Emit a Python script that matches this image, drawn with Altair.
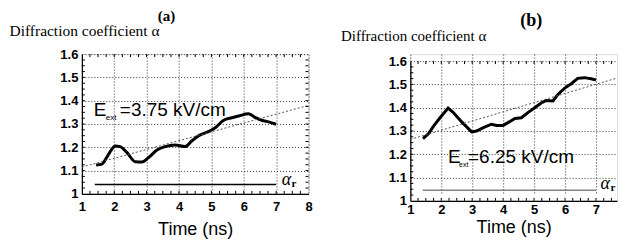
import altair as alt
import pandas as pd

# ---------------- data ----------------
time_a = [1.44, 1.62, 1.80, 2.03, 2.18, 2.39, 2.65, 2.85, 3.06, 3.32, 3.57, 3.88, 4.19,
          4.40, 4.60, 4.91, 5.12, 5.38, 5.63, 5.84, 6.15, 6.36, 6.56, 6.77, 7.00]
alpha_a = [1.124, 1.128, 1.164, 1.206, 1.203, 1.178, 1.138, 1.137, 1.156, 1.188, 1.203, 1.210, 1.203,
           1.228, 1.249, 1.267, 1.284, 1.316, 1.327, 1.334, 1.344, 1.327, 1.316, 1.309, 1.299]

time_b = [1.41, 1.59, 1.75, 1.96, 2.22, 2.39, 2.66, 2.98, 3.14, 3.36, 3.62, 3.79, 4.00, 4.21,
          4.38, 4.59, 4.80, 5.02, 5.23, 5.39, 5.61, 5.77, 5.98, 6.20, 6.41, 6.63, 6.84, 7.00]
alpha_b = [1.267, 1.289, 1.321, 1.357, 1.398, 1.379, 1.339, 1.296, 1.300, 1.314, 1.329, 1.324, 1.324, 1.340,
           1.354, 1.357, 1.379, 1.400, 1.420, 1.431, 1.429, 1.457, 1.483, 1.503, 1.526, 1.529, 1.524, 1.519]

trend_time = [1.0, 8.0]
trend_a = [1.115, 1.38]
trend_b = [1.264, 1.54]

alpha_r_time = [1.4, 7.0]
alpha_r_a = [1.04, 1.04]
alpha_r_b = [1.046, 1.046]

x_ticks = [1, 2, 3, 4, 5, 6, 7, 8]
y_ticks = [1.0, 1.1, 1.2, 1.3, 1.4, 1.5, 1.6]
minor_x = [1 + 0.25 * i for i in range(1, 28)]
minor_y = [1 + 0.025 * i for i in range(1, 24)]

Y_TITLE = "Diffraction coefficient α"
X_TITLE = "Time (ns)"

SANS = "Liberation Sans"
SERIF = "Liberation Serif"


def panel(times, alphas, trend_vals, ar_vals, width, height, top_px, x_max, right_ticks,
          label_title, title_size,
          title_dx, title_offset, ytitle_x, ytitle_y, ytitle_size, xlabel_pad, xtitle_pad,
          e_pos, e_value, e_sub_size, e_sub_dx, e_rest_dx, ar_pos, ar_color, ar_width, interp):
    xs = alt.Scale(domain=[1, x_max], nice=False, zero=False)
    ys = alt.Scale(domain=[1.0, 1.6], nice=False, zero=False, range=[height, top_px])
    shown_x = [v for v in x_ticks if v <= x_max]
    shown_minor_x = [v for v in minor_x if v < x_max]

    x_axis = alt.Axis(values=shown_x, format="d", title=X_TITLE, grid=True,
                      gridColor="#333", gridDash=[1, 2], gridWidth=1,
                      domainColor="#000", domainWidth=1.2, ticks=False,
                      labelFont=SANS, labelFontSize=13, labelFontWeight="bold",
                      labelColor="#000", labelPadding=xlabel_pad, labelOverlap=False,
                      labelFlush=False,
                      titleFont=SANS, titleFontSize=18, titleFontWeight="normal",
                      titleColor="#000", titlePadding=xtitle_pad)
    y_axis = alt.Axis(values=y_ticks, labelExpr="datum.value == 1 ? '1' : format(datum.value, '.1f')",
                      title=Y_TITLE, grid=True,
                      gridColor="#333", gridDash=[1, 2], gridWidth=1,
                      domainColor="#000", domainWidth=1.2, ticks=False,
                      labelFont=SANS, labelFontSize=13, labelFontWeight="bold",
                      labelColor="#000", labelPadding=4, labelOverlap=False,
                      labelFlush=False,
                      titleFont=SERIF, titleFontSize=ytitle_size,
                      titleFontWeight="normal", titleColor="#000",
                      titleAngle=0, titleAlign="left", titleBaseline="alphabetic",
                      titleX=ytitle_x, titleY=ytitle_y)

    def X():
        return alt.X("t:Q", scale=xs, axis=x_axis)

    def Y():
        return alt.Y("a:Q", scale=ys, axis=y_axis)

    curve = pd.DataFrame({"t": times, "a": alphas})
    trend = pd.DataFrame({"t": trend_time, "a": trend_vals})
    ar = pd.DataFrame({"t": alpha_r_time, "a": ar_vals})

    base_curve = alt.Chart(curve).mark_line(color="#000", strokeWidth=3, interpolate=interp).encode(
        x=X(), y=Y())
    trend_line = alt.Chart(trend).mark_line(color="#555", strokeWidth=1, strokeDash=[2, 2],
                                            clip=True).encode(x=X(), y=Y())
    ar_line = alt.Chart(ar).mark_line(color=ar_color, strokeWidth=ar_width).encode(
        x=X(), y=Y())

    ann = pd.DataFrame({"t": [e_pos[0]], "a": [e_pos[1]]})
    e_main = alt.Chart(ann).mark_text(text="E", font=SANS, fontSize=19, align="left",
                                      baseline="alphabetic", color="#000").encode(x=X(), y=Y())
    e_sub = alt.Chart(ann).mark_text(text="ext", font=SANS, fontSize=e_sub_size, align="left",
                                     baseline="alphabetic", dx=e_sub_dx, dy=4, color="#000").encode(x=X(), y=Y())
    e_rest = alt.Chart(ann).mark_text(text="=" + e_value, font=SANS, fontSize=19, align="left",
                                      baseline="alphabetic", dx=e_rest_dx, color="#000").encode(x=X(), y=Y())

    arp = pd.DataFrame({"t": [ar_pos[0]], "a": [ar_pos[1]]})
    ar_alpha = alt.Chart(arp).mark_text(text="α", font=SERIF, fontSize=18, fontStyle="italic",
                                        align="left", baseline="alphabetic", color="#000").encode(x=X(), y=Y())
    ar_sub = alt.Chart(arp).mark_text(text="r", font=SERIF, fontSize=11, fontWeight="bold",
                                      align="left", baseline="alphabetic", dx=10, dy=2, color="#000").encode(x=X(), y=Y())

    mx = pd.DataFrame({"t": shown_minor_x})
    my = pd.DataFrame({"a": minor_y})
    tick_b = alt.Chart(mx).mark_rule(color="#000", strokeWidth=1).encode(
        x=X(), y=alt.value(height), y2=alt.value(height - 3))
    tick_t = alt.Chart(mx).mark_rule(color="#000", strokeWidth=1).encode(
        x=X(), y=alt.value(top_px), y2=alt.value(top_px + 3))
    tick_l = alt.Chart(my).mark_rule(color="#000", strokeWidth=1).encode(
        y=Y(), x=alt.value(0), x2=alt.value(3))
    layers = [base_curve, trend_line, ar_line, e_main, e_sub, e_rest, ar_alpha, ar_sub,
              tick_b, tick_t, tick_l]
    if right_ticks:
        tick_r = alt.Chart(my).mark_rule(color="#000", strokeWidth=1).encode(
            y=Y(), x=alt.value(width), x2=alt.value(width - 3))
        layers.append(tick_r)

    return alt.layer(*layers).properties(
        width=width, height=height,
        title=alt.TitleParams(text=label_title, anchor="start", frame="group", dx=title_dx,
                              font=SERIF, fontSize=title_size, fontWeight="bold", color="#000",
                              offset=title_offset),
    )


chart_a = panel(time_a, alpha_a, trend_a, alpha_r_a, 227, 140, 0, 8, True, "(a)", 15,
                76, -1, -73, -19, 15.5, 7, 7,
                (1.37, 1.334), "3.75 kV/cm", 8, 12, 26, (7.17, 1.04), "#000", 1.5, "monotone")
# panel (b) runs off the right edge of the page in the original figure, so its
# visible x range stops just short of 8
chart_b = panel(time_b, alpha_b, trend_b, alpha_r_b, 207, 147, 7, 7.68, False, "(b)", 18,
                110, -2, -70, -14, 15, 3, 2,
                (2.22, 1.163), "6.25 kV/cm", 7, 11, 20, (7.15, 1.052), "#444", 1, "linear")

chart = alt.hconcat(chart_a, chart_b, spacing=102, bounds="flush").properties(
    padding={"left": 0, "top": 0, "right": 0, "bottom": 0}
).configure_view(strokeWidth=0).configure(background="white")

chart.save("out.html", embed_options={"renderer": "svg", "actions": False})
